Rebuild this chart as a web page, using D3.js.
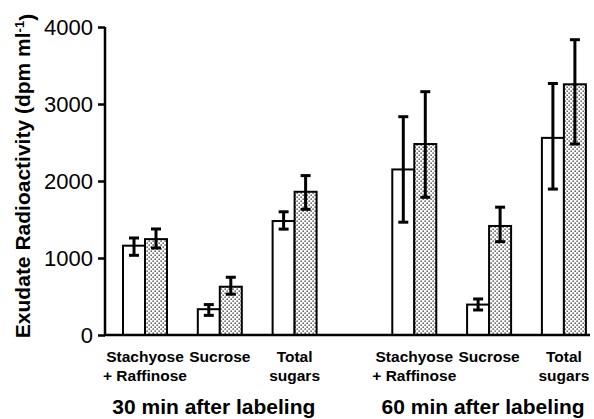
<!DOCTYPE html>
<html><head><meta charset="utf-8">
<script src="https://cdn.jsdelivr.net/npm/d3@7"></script>
<style>body{margin:0;background:#fff}svg{display:block}</style>
</head><body>
<script>
const categories = ["Stachyose|+ Raffinose", "Sucrose", "Total|sugars", "Stachyose|+ Raffinose", "Sucrose", "Total|sugars"];
const groupOf = [0, 0, 0, 1, 1, 1];
const groupLabels = ["30 min after labeling", "60 min after labeling"];
const openVals = [1160, 335, 1480, 2150, 395, 2560];
const openHigh = [1260, 395, 1600, 2835, 468, 3266];
const openLow  = [1035, 255, 1375, 1465, 325, 1895];
const dotVals  = [1245, 627, 1860, 2480, 1416, 3256];
const dotHigh  = [1377, 750, 2070, 3160, 1660, 3835];
const dotLow   = [1130, 530, 1632, 1788, 1212, 2481];
const yTicks = [0, 1000, 2000, 3000, 4000];
const yTitle = "Exudate Radioactivity (dpm ml";

const W = 594, H = 419;
const FONT = "'Liberation Sans', Arial, Helvetica, sans-serif";
const svg = d3.select("body").append("svg").attr("width", W).attr("height", H);

const defs = svg.append("defs");
const pat = defs.append("pattern").attr("id", "dots").attr("patternUnits", "userSpaceOnUse")
  .attr("width", 4).attr("height", 4);
pat.append("rect").attr("width", 4).attr("height", 4).attr("fill", "#fff");
pat.append("rect").attr("x", 0.5).attr("y", 0.5).attr("width", 1.3).attr("height", 1.3).attr("fill", "#222");
pat.append("rect").attr("x", 2.5).attr("y", 2.5).attr("width", 1.3).attr("height", 1.3).attr("fill", "#222");

const y = d3.scaleLinear().domain([0, 4000]).range([335, 27]);
// slot position: index within group + group offset (1.6 slot gap between groups)
const slot = (i) => (i % 3) + groupOf[i] * 3.6;
const x = d3.scaleLinear().domain([0, 5.6]).range([145, 563.9]);
const bw = 22;

// bars
const idx = d3.range(categories.length);
const g = svg.append("g");
g.selectAll("rect.open").data(idx).join("rect")
  .attr("x", i => x(slot(i)) - bw).attr("y", i => y(openVals[i]))
  .attr("width", bw).attr("height", i => y(0) - y(openVals[i]))
  .attr("fill", "#fff").attr("stroke", "#000").attr("stroke-width", 2);
g.selectAll("rect.dot").data(idx).join("rect")
  .attr("x", i => x(slot(i))).attr("y", i => y(dotVals[i]))
  .attr("width", bw).attr("height", i => y(0) - y(dotVals[i]))
  .attr("fill", "url(#dots)").attr("stroke", "#000").attr("stroke-width", 2);

// error bars
function err(cx, lo, hi) {
  g.append("line").attr("x1", cx).attr("x2", cx).attr("y1", y(lo)).attr("y2", y(hi))
    .attr("stroke", "#000").attr("stroke-width", 3);
  [lo, hi].forEach(v => g.append("line").attr("x1", cx - 5).attr("x2", cx + 5)
    .attr("y1", y(v)).attr("y2", y(v)).attr("stroke", "#000").attr("stroke-width", 3));
}
idx.forEach(i => {
  err(x(slot(i)) - bw / 2, openLow[i], openHigh[i]);
  err(x(slot(i)) + bw / 2, dotLow[i], dotHigh[i]);
});

// y axis
const yAxis = d3.axisLeft(y).tickValues(yTicks).tickSize(7).tickPadding(5).tickFormat(d3.format("d"));
const ya = svg.append("g").attr("transform", "translate(105,0)").call(yAxis);
ya.select(".domain").remove();
ya.append("line").attr("x1", 0).attr("x2", 0).attr("y1", y(4000)).attr("y2", y(0))
  .attr("stroke", "#000").attr("stroke-width", 2.5);
ya.selectAll(".tick line").attr("stroke", "#000").attr("stroke-width", 2.5);
ya.selectAll(".tick text").attr("fill", "#000").style("font-family", FONT).style("font-size", "22px")
  .attr("dy", "0.35em");

// x baseline
svg.append("line").attr("x1", 104).attr("x2", 590).attr("y1", y(0)).attr("y2", y(0))
  .attr("stroke", "#000").attr("stroke-width", 2.5);

// category labels
idx.forEach(i => {
  const lines = categories[i].split("|");
  const t = svg.append("text").attr("x", x(slot(i))).attr("y", 362).attr("text-anchor", "middle")
    .style("font-family", FONT).style("font-size", "15.5px").style("font-weight", "bold");
  lines.forEach((l, k) => t.append("tspan").attr("x", x(slot(i))).attr("y", 362 + k * 19).text(l));
});

// group labels
groupLabels.forEach((lab, gi) => {
  const cx = x(1 + gi * 3.6) - 6;
  svg.append("text").attr("x", cx).attr("y", 414).attr("text-anchor", "middle")
    .style("font-family", FONT).style("font-size", "21px").style("font-weight", "bold").text(lab);
});

// y title
const yt = svg.append("text").attr("transform", "translate(30,176) rotate(-90)").attr("text-anchor", "middle")
  .style("font-family", FONT).style("font-size", "21px").style("font-weight", "bold");
yt.append("tspan").text(yTitle);
yt.append("tspan").attr("dy", "-0.45em").style("font-size", "13px").text("-1");
yt.append("tspan").attr("dy", "0.45em").text(")");
</script>
</body></html>
